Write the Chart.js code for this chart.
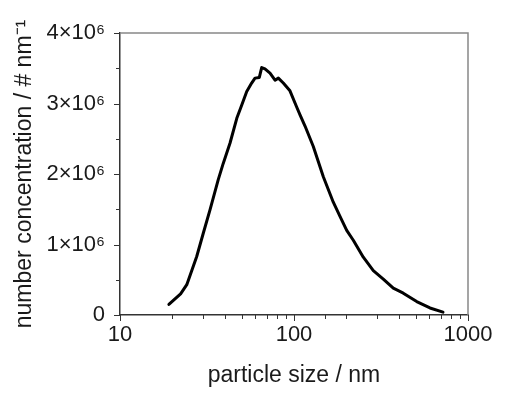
<!DOCTYPE html>
<html>
<head>
<meta charset="utf-8">
<script src="https://cdn.jsdelivr.net/npm/chart.js@4"></script>
<style>
  html, body { margin: 0; padding: 0; background: #ffffff; }
  #wrap { width: 506px; height: 398px; }
</style>
</head>
<body>
<div id="wrap"><canvas id="sizeChart" width="506" height="398"></canvas></div>
<script>
// particle size (nm) and number concentration (# / nm)
const sizeNm = [19.1, 22.3, 24.2, 27.6, 30.1, 32.9, 36.7, 39.2, 42.9, 46.9, 50.1, 53.5, 57.1, 59.7, 63.2, 65.2, 68.1, 72.8, 77.8, 81.3, 86.8, 94.8, 103.6, 108.3, 115.7, 129.1, 147.4, 168.2, 183.8, 200.9, 219.2, 250.2, 285.6, 326.0, 372.1, 424.8, 507.2, 604.6, 718.2];
const numberConc = [0.15e6, 0.30e6, 0.43e6, 0.83e6, 1.16e6, 1.49e6, 1.92e6, 2.15e6, 2.44e6, 2.79e6, 2.98e6, 3.17e6, 3.29e6, 3.36e6, 3.37e6, 3.51e6, 3.49e6, 3.43e6, 3.33e6, 3.36e6, 3.29e6, 3.18e6, 2.95e6, 2.84e6, 2.68e6, 2.39e6, 1.96e6, 1.60e6, 1.40e6, 1.20e6, 1.06e6, 0.82e6, 0.63e6, 0.51e6, 0.38e6, 0.31e6, 0.19e6, 0.10e6, 0.04e6];

const xTickLabels = { 10: "10", 100: "100", 1000: "1000" };
const yTickLabels = { 0: "0", 1e6: "1×10⁶", 2e6: "2×10⁶", 3e6: "3×10⁶", 4e6: "4×10⁶" };

const FONT = "'Liberation Sans', Arial, sans-serif";
const TEXT = "#1a1a1a";

// outside tick marks (long for labelled ticks, short for minor) + grey frame top/right
const tickMarks = {
  id: "tickMarks",
  afterDraw(chart) {
    const { ctx, chartArea, scales } = chart;
    ctx.save();
    ctx.strokeStyle = "#333";
    ctx.lineWidth = 1;
    scales.x.ticks.forEach((t) => {
      const px = Math.round(scales.x.getPixelForValue(t.value)) + 0.5;
      const len = xTickLabels[t.value] ? 6 : 4;
      ctx.beginPath();
      ctx.moveTo(px, chartArea.bottom);
      ctx.lineTo(px, chartArea.bottom + len);
      ctx.stroke();
    });
    scales.y.ticks.forEach((t) => {
      const py = Math.round(scales.y.getPixelForValue(t.value)) + 0.5;
      const len = yTickLabels[t.value] !== undefined ? 6 : 4;
      ctx.beginPath();
      ctx.moveTo(chartArea.left - len, py);
      ctx.lineTo(chartArea.left, py);
      ctx.stroke();
    });
    ctx.strokeStyle = "#888";
    ctx.lineWidth = 1.5;
    ctx.beginPath();
    ctx.moveTo(chartArea.left, chartArea.top);
    ctx.lineTo(chartArea.right, chartArea.top);
    ctx.lineTo(chartArea.right, chartArea.bottom);
    ctx.stroke();
    ctx.restore();
  },
};

const points = sizeNm.map((x, i) => ({ x: x, y: numberConc[i] }));

new Chart(document.getElementById("sizeChart"), {
  type: "line",
  data: {
    datasets: [
      {
        data: points,
        borderColor: "#000",
        borderWidth: 3,
        pointRadius: 0,
        tension: 0,
        fill: false,
        borderJoinStyle: "round",
        borderCapStyle: "round",
      },
    ],
  },
  options: {
    responsive: false,
    animation: false,
    devicePixelRatio: 1,
    layout: { padding: { top: 33, right: 38, left: 0, bottom: 0 } },
    plugins: { legend: { display: false }, tooltip: { enabled: false } },
    scales: {
      x: {
        type: "logarithmic",
        min: 10,
        max: 1000,
        afterFit: (s) => { s.height = 83; },
        grid: { display: false, drawTicks: false },
        border: { display: true, color: "#333", width: 1.5 },
        ticks: {
          autoSkip: false,
          maxRotation: 0,
          padding: 7,
          color: TEXT,
          font: { family: FONT, size: 22 },
          callback: (v) => xTickLabels[v] || "",
        },
        title: {
          display: true,
          text: "particle size / nm",
          color: TEXT,
          font: { family: FONT, size: 23 },
          padding: { top: 0, bottom: 9 },
        },
      },
      y: {
        min: 0,
        max: 4e6,
        afterFit: (s) => { s.width = 120; },
        grid: { display: false, drawTicks: false },
        border: { display: true, color: "#333", width: 1.5 },
        ticks: {
          stepSize: 0.5e6,
          autoSkip: false,
          padding: 15,
          color: TEXT,
          font: { family: FONT, size: 22 },
          callback: (v) => (yTickLabels[v] !== undefined ? yTickLabels[v] : ""),
        },
        title: {
          display: true,
          text: "number concentration / # nm⁻¹",
          color: TEXT,
          font: { family: FONT, size: 23 },
          padding: { top: 11, bottom: 0 },
        },
      },
    },
  },
  plugins: [tickMarks],
});
</script>
</body>
</html>
